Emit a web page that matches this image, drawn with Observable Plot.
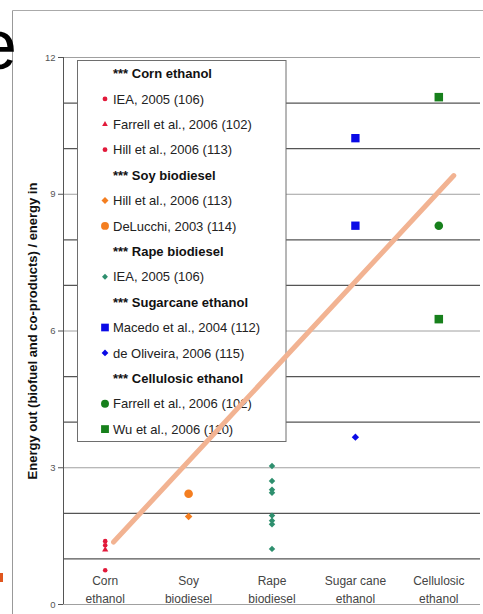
<!DOCTYPE html>
<html><head><meta charset="utf-8">
<script src="https://cdn.jsdelivr.net/npm/d3@7"></script>
<script src="https://cdn.jsdelivr.net/npm/@observablehq/plot@0.6"></script>
<style>
body{margin:0;background:#fff;}
#wrap{position:relative;width:483px;height:614px;overflow:hidden;}
#wrap svg.deco{position:absolute;left:0;top:0;pointer-events:none;}
</style></head><body><div id="wrap"></div>
<script>
// ---- data ----
const categories = ["Corn\nethanol", "Soy\nbiodiesel", "Rape\nbiodiesel", "Sugar cane\nethanol", "Cellulosic\nethanol"];
const groups = ["Corn ethanol", "Soy biodiesel", "Rape biodiesel", "Sugarcane ethanol", "Cellulosic ethanol"];
const yTicks = [0, 3, 6, 9, 12];
const lightGrid = [0, 3, 6, 9, 12];
const darkGrid = [1, 2, 4, 5, 7, 8, 10, 11];

const cornIEA = [1.39, 0.75];
const cornFarrell = [1.20];
const cornHill = [1.30];
const soyHill = [1.93];
const soyDeLucchi = [2.43];
const rapeIEA = [3.04, 2.71, 2.52, 2.45, 1.95, 1.84, 1.76, 1.22];
const caneMacedo = [10.23, 8.31];
const caneOliveira = [3.67];
const cellFarrell = [8.31];
const cellWu = [11.13, 6.26];
const trendLine = [{x: 0.10, y: 1.37}, {x: 4.18, y: 9.41}];
const yLabel = "Energy out (biofuel and co-products) / energy in";

const RED = "#e2193a", ORANGE = "#f47e20", TEAL = "#2e8f6e", BLUE = "#0a0ae6", GREEN = "#17801c";

const series = [
  {group: "Corn ethanol", label: "IEA, 2005 (106)", cat: 0, values: cornIEA, symbol: "circle", color: RED, r: 2.3},
  {group: "Corn ethanol", label: "Farrell et al., 2006 (102)", cat: 0, values: cornFarrell, symbol: "triangle", color: RED, r: 2.3},
  {group: "Corn ethanol", label: "Hill et al., 2006 (113)", cat: 0, values: cornHill, symbol: "circle", color: RED, r: 2.3},
  {group: "Soy biodiesel", label: "Hill et al., 2006 (113)", cat: 1, values: soyHill, symbol: "diamond2", color: ORANGE, r: 3.4},
  {group: "Soy biodiesel", label: "DeLucchi, 2003 (114)", cat: 1, values: soyDeLucchi, symbol: "circle", color: ORANGE, r: 4.3},
  {group: "Rape biodiesel", label: "IEA, 2005 (106)", cat: 2, values: rapeIEA, symbol: "diamond2", color: TEAL, r: 2.9},
  {group: "Sugarcane ethanol", label: "Macedo et al., 2004 (112)", cat: 3, values: caneMacedo, symbol: "square", color: BLUE, r: 4.7},
  {group: "Sugarcane ethanol", label: "de Oliveira, 2006 (115)", cat: 3, values: caneOliveira, symbol: "diamond2", color: BLUE, r: 3.3},
  {group: "Cellulosic ethanol", label: "Farrell et al., 2006 (102)", cat: 4, values: cellFarrell, symbol: "circle", color: GREEN, r: 4.3},
  {group: "Cellulosic ethanol", label: "Wu et al., 2006 (110)", cat: 4, values: cellWu, symbol: "square", color: GREEN, r: 4.8}
];

const FONT = "'Liberation Sans', Arial, Helvetica, sans-serif";

const plot = Plot.plot({
  width: 483,
  height: 614,
  marginLeft: 63,
  marginRight: 3,
  marginTop: 57,
  marginBottom: 10,
  style: {fontFamily: FONT, fontSize: "9.5px", color: "#555", background: "transparent"},
  x: {domain: [-0.5, 4.5], axis: null},
  y: {domain: [0, 12], ticks: yTicks, tickSize: 5, tickPadding: 3, label: null},
  marks: [
    Plot.ruleY(lightGrid, {stroke: "#a0a0a0", strokeWidth: 1}),
    Plot.ruleY(darkGrid, {stroke: "#555", strokeWidth: 1.1}),
    Plot.ruleX([-0.5], {stroke: "#555"}),
    Plot.text(categories, {x: (d, i) => i, y: 0.35, text: d => d, fontSize: 12, fill: "#444", lineHeight: 1.5}),
    Plot.text([yLabel], {frameAnchor: "left", textAnchor: "middle", dx: -31, rotate: -90, fontWeight: "bold", fontSize: 13, fill: "#111"}),
    ...series.map(s => Plot.dot(s.values, {x: () => s.cat, y: d => d, symbol: s.symbol, fill: s.color, r: s.r, stroke: "none"})),
    Plot.line(trendLine, {x: "x", y: "y", stroke: "#f2b392", strokeWidth: 5})
  ]
});

const wrap = document.getElementById("wrap");
wrap.appendChild(plot);

// ---- legend (inserted below the trend line) ----
const symMap = {circle: d3.symbolCircle, triangle: d3.symbolTriangle, square: d3.symbolSquare, diamond2: d3.symbolDiamond2};
const rows = [];
groups.forEach(g => {
  rows.push({header: true, label: "*** " + g});
  series.filter(s => s.group === g).forEach(s => rows.push(s));
});
const lineNode = plot.querySelector('g[aria-label="line"]');
const svg = d3.select(plot);
const lg = lineNode ? svg.insert("g", () => lineNode) : svg.append("g");
lg.attr("text-anchor", "start");
lg.append("rect").attr("x", 77.5).attr("y", 60.5).attr("width", 208.5).attr("height", 381)
  .attr("fill", "#fff").attr("stroke", "#6e6e6e").attr("stroke-width", 1);
rows.forEach((row, i) => {
  const y = 73.5 + i * 25.4;
  if (!row.header) {
    lg.append("path").attr("transform", `translate(105,${y})`)
      .attr("d", d3.symbol(symMap[row.symbol], Math.PI * row.r * row.r * (row.symbol === "circle" && row.r < 3 ? 1.1 : 0.85))())
      .attr("fill", row.color);
  }
  lg.append("text").attr("x", 113).attr("y", y).attr("dy", "0.36em")
    .attr("text-anchor", "start")
    .attr("font-family", FONT).attr("font-size", 13)
    .attr("font-weight", row.header ? "bold" : "normal")
    .attr("fill", row.header ? "#111" : "#222")
    .text(row.label);
});

// ---- slide decorations around the chart ----
const deco = d3.select(wrap).append("svg").attr("class", "deco").attr("width", 483).attr("height", 614);
deco.append("line").attr("x1", 12.5).attr("x2", 12.5).attr("y1", 10.5).attr("y2", 614).attr("stroke", "#999");
deco.append("line").attr("x1", 12.5).attr("x2", 483).attr("y1", 10.5).attr("y2", 10.5).attr("stroke", "#aaa");
deco.append("text").attr("x", -22).attr("y", 69).attr("font-family", FONT).attr("font-size", 70).attr("fill", "#000").text("e");
deco.append("rect").attr("x", 0).attr("y", 573).attr("width", 3).attr("height", 9).attr("fill", "#e0561e");
</script></body></html>
